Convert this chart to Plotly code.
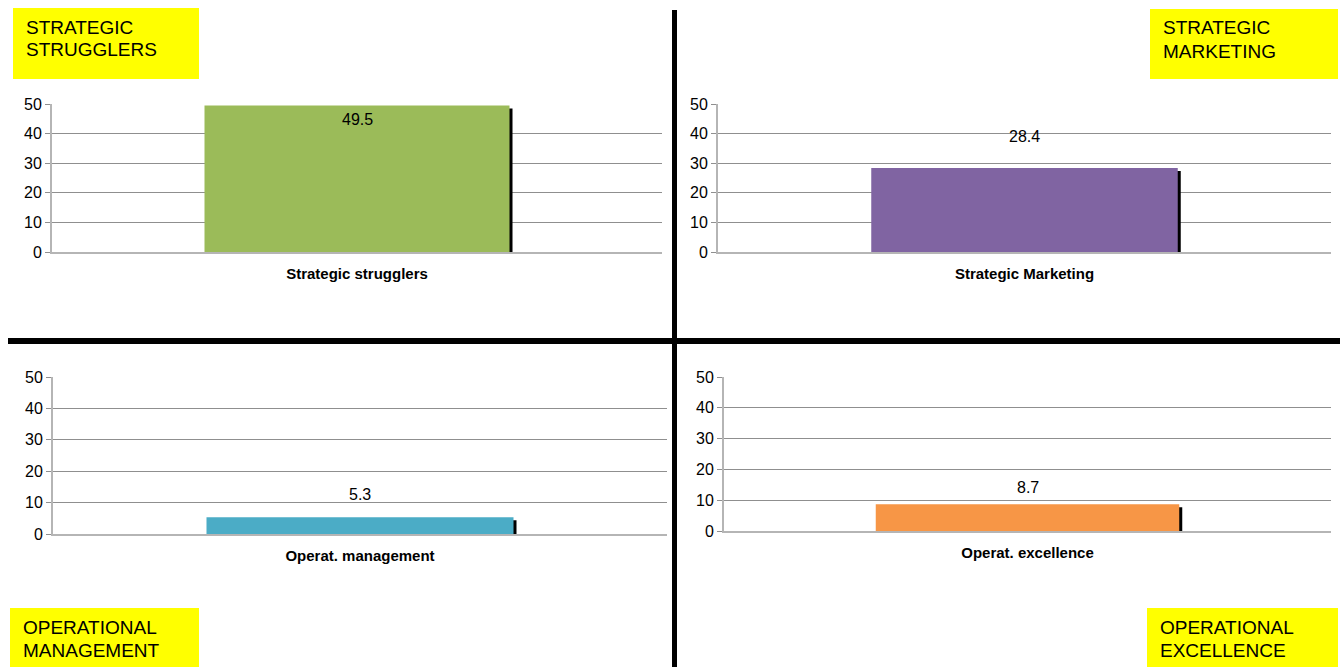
import plotly.graph_objects as go

W, H = 1340, 667

categories = ["Strategic strugglers", "Strategic Marketing", "Operat. management", "Operat. excellence"]
values = [49.5, 28.4, 5.3, 8.7]
value_labels = ["49.5", "28.4", "5.3", "8.7"]
colors = ["#9BBB59", "#8064A2", "#4BACC6", "#F79646"]
quadrant_titles = [["STRATEGIC", "STRUGGLERS"], ["STRATEGIC", "MARKETING"],
                   ["OPERATIONAL", "MANAGEMENT"], ["OPERATIONAL", "EXCELLENCE"]]
y_ticks = [0, 10, 20, 30, 40, 50]

# pixel layout of each panel: (left, right, top, bottom)
panels = [(52, 662, 104, 252), (718, 1331, 104, 252), (53, 667, 377, 534), (724, 1331, 377, 531)]
label_shift = [-14, 31, 23, 17]
boxes = [(13, 199, 8, 79), (1150, 1338, 9, 79), (10, 199, 608, 667), (1147, 1338, 608, 667)]

FONT = "Liberation Sans, Arial, sans-serif"

def px(x):
    return x / W

def py(y):
    return 1 - y / H

fig = go.Figure()
layout = dict(
    width=W, height=H, margin=dict(l=0, r=0, t=0, b=0, pad=0, autoexpand=False),
    paper_bgcolor="white", plot_bgcolor="white", showlegend=False,
    barmode="overlay", font=dict(family=FONT, color="black"),
)
annotations = []
shapes = []

for i, (cat, val) in enumerate(zip(categories, values)):
    n = "" if i == 0 else str(i + 1)
    xa, ya = "x" + n, "y" + n
    l, r, t, b = panels[i]
    wpx = r - l
    hpx = b - t
    dx = 3.0 / wpx          # shadow offset in data units
    dy = 3.0 * 50 / hpx     # shadow drop in data units
    # shadow
    fig.add_trace(go.Bar(x=[cat], y=[max(val - dy, 0)], width=0.5, offset=-0.25 + dx,
                         marker=dict(color="black", line=dict(width=0)),
                         xaxis=xa, yaxis=ya, hoverinfo="skip"))
    fig.add_trace(go.Bar(x=[cat], y=[val], width=0.5, offset=-0.25,
                         marker=dict(color=colors[i], line=dict(width=0)),
                         xaxis=xa, yaxis=ya))
    layout["xaxis" + n] = dict(
        domain=[px(l), px(r)], anchor=ya, type="category", range=[-0.5, 0.5],
        showline=True, linecolor="#b5b5b5", linewidth=2, showgrid=False, zeroline=False,
        ticks="", tickvals=[cat], ticktext=["<b>" + cat + "</b>"], automargin=False,
        tickfont=dict(size=15, family=FONT, color="black"), ticklabelstandoff=7,
        fixedrange=True,
    )
    layout["yaxis" + n] = dict(
        domain=[py(b), py(t)], anchor=xa, range=[0, 50], tickvals=y_ticks,
        showgrid=True, gridcolor="#8f8f8f", gridwidth=1, zeroline=False,
        showline=True, linecolor="#b5b5b5", linewidth=2, automargin=False,
        ticks="outside", ticklen=5, tickcolor="#8f8f8f",
        tickfont=dict(size=16, family=FONT, color="black"), fixedrange=True,
    )
    annotations.append(dict(x=cat, y=val, xref=xa, yref=ya, text=value_labels[i],
                            showarrow=False, yshift=label_shift[i],
                            font=dict(size=16, family=FONT, color="black")))
    # yellow box
    bl, br, bt, bb = boxes[i]
    shapes.append(dict(type="rect", xref="paper", yref="paper",
                       x0=px(bl), x1=px(br), y0=py(bb), y1=py(bt),
                       fillcolor="#FFFF00", line=dict(width=0), layer="above"))
    for j, line in enumerate(quadrant_titles[i]):
        annotations.append(dict(x=px(bl + 11), y=py(bt + 19 + 23 * j), xref="paper", yref="paper",
                                xanchor="left", yanchor="middle", align="left",
                                text=line, showarrow=False,
                                font=dict(size=19, family=FONT, color="black")))

# quadrant divider lines
shapes.append(dict(type="line", xref="paper", yref="paper", x0=px(674.5), x1=px(674.5),
                   y0=py(10), y1=py(667), line=dict(color="black", width=5), layer="above"))
shapes.append(dict(type="line", xref="paper", yref="paper", x0=px(8), x1=px(1340),
                   y0=py(341), y1=py(341), line=dict(color="black", width=6), layer="above"))

layout["annotations"] = annotations
layout["shapes"] = shapes
fig.update_layout(**layout)
fig.write_html("out.html")
